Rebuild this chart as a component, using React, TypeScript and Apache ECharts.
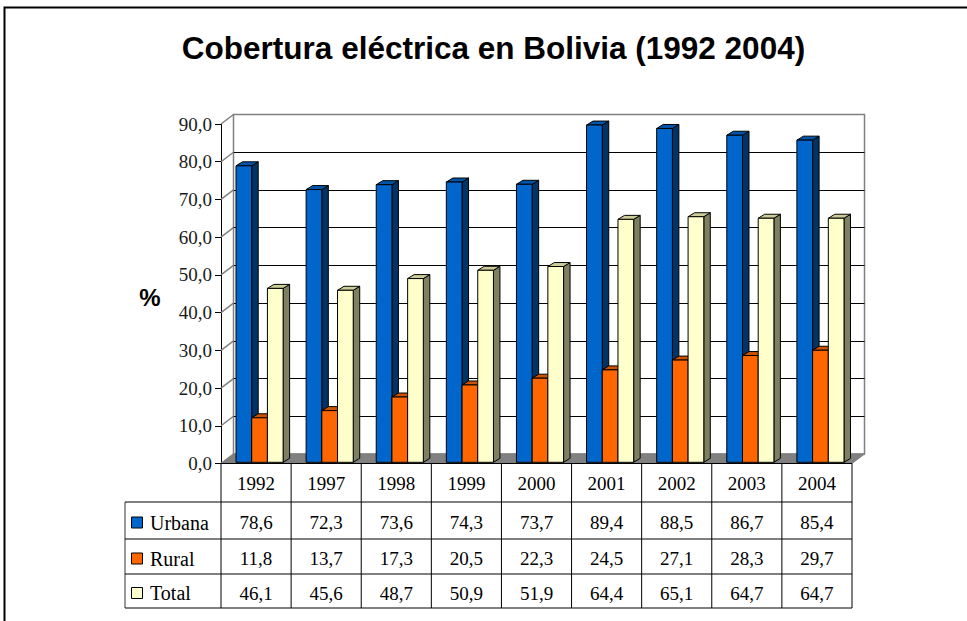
import React, { useEffect, useRef } from "react";
import * as echarts from "echarts";

const years = ["1992", "1997", "1998", "1999", "2000", "2001", "2002", "2003", "2004"];
const urbana = [78.6, 72.3, 73.6, 74.3, 73.7, 89.4, 88.5, 86.7, 85.4];
const rural = [11.8, 13.7, 17.3, 20.5, 22.3, 24.5, 27.1, 28.3, 29.7];
const total = [46.1, 45.6, 48.7, 50.9, 51.9, 64.4, 65.1, 64.7, 64.7];
const seriesNames = ["Urbana", "Rural", "Total"];
const yTicks = [0, 10, 20, 30, 40, 50, 60, 70, 80, 90];
const titleText = "Cobertura eléctrica en Bolivia (1992 2004)";
const yAxisName = "%";

const fmt = (v: number) => v.toFixed(1).replace(".", ",");

const FRONT_LEFT = 221;
const FRONT_RIGHT = 852;
const FRONT_TOP = 124;
const FRONT_BOTTOM = 463.5;
const DDX = 12.5;
const DDY = 9.5;
const ROWS = [502, 539, 574, 608];
const TABLE_LEFT = 125;
const SERIF = '"Liberation Serif", "Times New Roman", serif';
const SANS = '"Liberation Sans", Arial, sans-serif';

const palette = [
  { front: "#0066CC", side: "#003366", top: "#0055AA" },
  { front: "#FF6600", side: "#993D00", top: "#CC5200" },
  { front: "#FFFFCC", side: "#7F7F62", top: "#CCCC99" },
];

function barRender(s: number) {
  return (params: any, api: any) => {
    const i = api.value(0);
    const v = api.value(1);
    const top = api.coord([i, v]);
    const base = api.coord([i, 0]);
    const band = api.size([1, 0])[0];
    const w = band * 0.224;
    const x = top[0] - band * 0.286 + s * w;
    const yT = top[1] - 1.2;
    const yB = base[1] - 1.2;
    const dx = 6.5;
    const dy = 4;
    const c = palette[s];
    return {
      type: "group",
      children: [
        {
          type: "polygon",
          shape: { points: [[x + w, yT], [x + w + dx, yT - dy], [x + w + dx, yB - dy], [x + w, yB]] },
          style: { fill: c.side, stroke: "#000", lineWidth: 1 },
        },
        {
          type: "polygon",
          shape: { points: [[x, yT], [x + dx, yT - dy], [x + w + dx, yT - dy], [x + w, yT]] },
          style: { fill: c.top, stroke: "#000", lineWidth: 1 },
        },
        {
          type: "rect",
          shape: { x, y: yT, width: w, height: yB - yT },
          style: { fill: c.front, stroke: "#000", lineWidth: 1 },
        },
      ],
    };
  };
}

function textEl(text: string, x: number, y: number, align: string, font: string) {
  return {
    type: "text",
    style: {
      text,
      x,
      y,
      align,
      verticalAlign: "middle",
      textAlign: align,
      textVerticalAlign: "middle",
      font,
      fill: "#000",
    },
  };
}

export default function App() {
  const ref = useRef<HTMLDivElement>(null);
  useEffect(() => {
    if (!ref.current) return;
    const chart = echarts.init(ref.current, null, { renderer: "svg" });
    const tableData = years.map((_, i) => [i, urbana[i], rural[i], total[i]]);
    const rowCenters = [
      (ROWS[0] + ROWS[1]) / 2 + 2,
      (ROWS[1] + ROWS[2]) / 2 + 2,
      (ROWS[2] + ROWS[3]) / 2 + 2,
    ];
    const keyColors = palette.map((p) => p.front);

    const graphic: any[] = [
      {
        type: "rect",
        z: 20,
        shape: { x: 4.5, y: 7.5, width: 1100, height: 800 },
        style: { fill: "none", stroke: "#000", lineWidth: 2 },
      },
      {
        type: "text",
        z: 20,
        x: 493.5,
        y: 48,
        style: {
          text: titleText,
          align: "center",
          verticalAlign: "middle",
          textAlign: "center",
          textVerticalAlign: "middle",
          font: `bold 31.5px ${SANS}`,
          fill: "#000",
        },
      },
      {
        type: "text",
        z: 20,
        x: 150,
        y: 297,
        style: {
          text: yAxisName,
          align: "center",
          verticalAlign: "middle",
          textAlign: "center",
          textVerticalAlign: "middle",
          font: `bold 24px ${SANS}`,
          fill: "#000",
        },
      },
      {
        type: "line",
        z: 20,
        shape: { x1: FRONT_LEFT, y1: FRONT_BOTTOM, x2: FRONT_RIGHT, y2: FRONT_BOTTOM },
        style: { stroke: "#000", lineWidth: 1 },
      },
      {
        type: "line",
        z: 20,
        shape: { x1: FRONT_LEFT, y1: FRONT_BOTTOM, x2: FRONT_LEFT, y2: ROWS[3] },
        style: { stroke: "#000", lineWidth: 1 },
      },
      {
        type: "line",
        z: 20,
        shape: { x1: TABLE_LEFT, y1: ROWS[0], x2: TABLE_LEFT, y2: ROWS[3] },
        style: { stroke: "#333", lineWidth: 1 },
      },
      ...ROWS.map((y) => ({
        type: "line",
        z: 20,
        shape: { x1: TABLE_LEFT, y1: y, x2: FRONT_RIGHT, y2: y },
        style: { stroke: "#000", lineWidth: 1 },
      })),
      ...seriesNames.map((n, k) => ({
        type: "rect",
        z: 20,
        shape: { x: 131.5, y: rowCenters[k] - 5.5, width: 11, height: 11 },
        style: { fill: keyColors[k], stroke: "#000", lineWidth: 1 },
      })),
      ...seriesNames.map((n, k) => ({
        type: "text",
        z: 20,
        x: 150,
        y: rowCenters[k],
        style: {
          text: n,
          align: "left",
          verticalAlign: "middle",
          textAlign: "left",
          textVerticalAlign: "middle",
          font: `20px ${SERIF}`,
          fill: "#000",
        },
      })),
    ];

    const option: any = {
      animation: false,
      backgroundColor: "#fff",
      grid: [
        {
          left: FRONT_LEFT,
          top: FRONT_TOP,
          width: FRONT_RIGHT - FRONT_LEFT,
          height: FRONT_BOTTOM - FRONT_TOP,
          show: false,
        },
        {
          left: FRONT_LEFT + DDX,
          top: FRONT_TOP - DDY,
          width: FRONT_RIGHT - FRONT_LEFT,
          height: FRONT_BOTTOM - FRONT_TOP,
          show: true,
          borderColor: "#808080",
          borderWidth: 1.5,
          backgroundColor: "transparent",
        },
      ],
      xAxis: [
        {
          gridIndex: 0,
          type: "category",
          data: years,
          axisLine: { show: false },
          axisTick: { show: false },
          axisLabel: {
            margin: 19.5,
            verticalAlign: "middle",
            fontFamily: SERIF,
            fontSize: 19,
            color: "#000",
          },
        },
        {
          gridIndex: 1,
          type: "category",
          data: years,
          show: false,
        },
      ],
      yAxis: [
        {
          gridIndex: 0,
          type: "value",
          min: 0,
          max: 90,
          interval: 10,
          axisLine: { show: true, lineStyle: { color: "#000", width: 1 } },
          axisTick: { show: true, length: 6, lineStyle: { color: "#000" } },
          axisLabel: {
            margin: 9,
            formatter: (v: number) => fmt(v),
            fontFamily: SERIF,
            fontSize: 19,
            color: "#1a1a1a",
          },
          splitLine: { show: false },
        },
        {
          gridIndex: 1,
          type: "value",
          min: 0,
          max: 90,
          interval: 10,
          axisLine: { show: false },
          axisTick: { show: false },
          axisLabel: { show: false },
          splitLine: {
            show: true,
            lineStyle: {
              color: ["#808080", "#000", "#000", "#000", "#000", "#000", "#000", "#000", "#000", "#808080"],
              width: 1,
            },
          },
        },
      ],
      series: [
        {
          type: "custom",
          name: "walls",
          xAxisIndex: 0,
          yAxisIndex: 0,
          z: 1,
          clip: false,
          silent: true,
          data: yTicks.map((t) => [0, t]),
          renderItem: (params: any, api: any) => {
            const p = api.coord([0, api.value(1)]);
            const x0 = params.coordSys.x;
            return {
              type: "line",
              shape: { x1: x0, y1: p[1], x2: x0 + DDX, y2: p[1] - DDY },
              style: { stroke: "#808080", lineWidth: 1.5 },
            };
          },
        },
        {
          type: "custom",
          name: "floor",
          xAxisIndex: 0,
          yAxisIndex: 0,
          z: 1,
          clip: false,
          silent: true,
          data: [[0, 0]],
          renderItem: (params: any, api: any) => {
            const cs = params.coordSys;
            const yb = api.coord([0, 0])[1];
            return {
              type: "polygon",
              shape: {
                points: [
                  [cs.x, yb],
                  [cs.x + cs.width, yb],
                  [cs.x + cs.width + DDX, yb - DDY],
                  [cs.x + DDX, yb - DDY],
                ],
              },
              style: { fill: "#808080", stroke: "#808080", lineWidth: 1 },
            };
          },
        },
        ...[urbana, rural, total].map((arr, s) => ({
          type: "custom",
          name: seriesNames[s],
          xAxisIndex: 0,
          yAxisIndex: 0,
          z: 2 + s,
          clip: false,
          data: arr.map((v, i) => [i, v]),
          renderItem: barRender(s),
        })),
        {
          type: "custom",
          name: "table",
          xAxisIndex: 0,
          yAxisIndex: 0,
          z: 10,
          clip: false,
          silent: true,
          data: tableData,
          renderItem: (params: any, api: any) => {
            const i = api.value(0);
            const c = api.coord([i, 0]);
            const band = api.size([1, 0])[0];
            const xr = c[0] + band / 2;
            const font = `19px ${SERIF}`;
            return {
              type: "group",
              children: [
                {
                  type: "line",
                  shape: { x1: xr, y1: FRONT_BOTTOM, x2: xr, y2: ROWS[3] },
                  style: { stroke: "#000", lineWidth: 1 },
                },
                textEl(fmt(api.value(1)), c[0], rowCenters[0], "center", font),
                textEl(fmt(api.value(2)), c[0], rowCenters[1], "center", font),
                textEl(fmt(api.value(3)), c[0], rowCenters[2], "center", font),
              ],
            };
          },
        },
      ],
      graphic,
    };
    chart.setOption(option);
    return () => chart.dispose();
  }, []);
  return (
    <div
      ref={ref}
      style={{ position: "fixed", left: 0, top: 0, width: 967, height: 621, background: "#fff" }}
    />
  );
}
